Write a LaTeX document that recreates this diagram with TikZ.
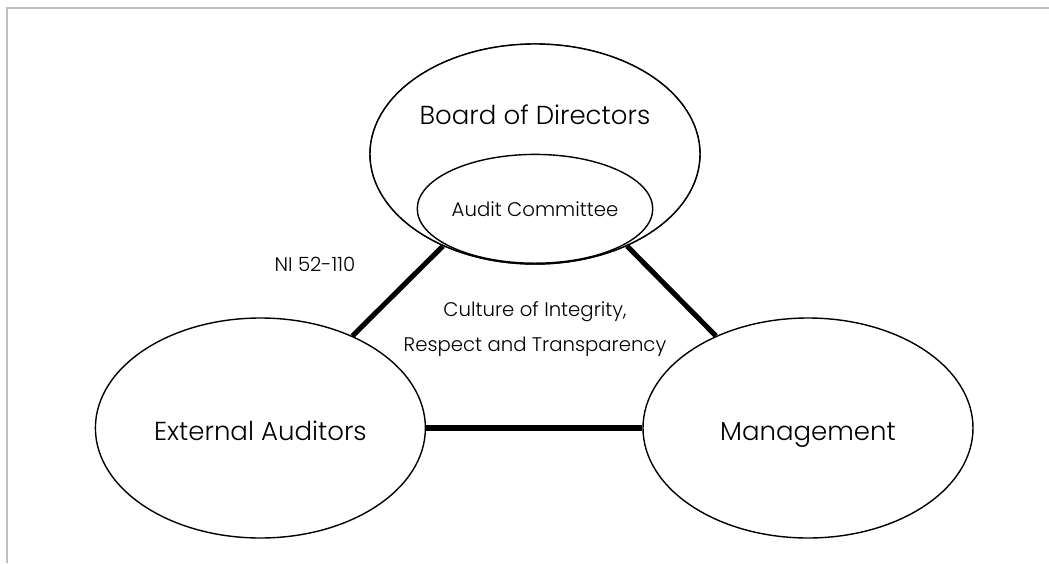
\documentclass[tikz,border=0pt]{standalone}
\usepackage{fontspec}
\setmainfont{Poppins Light}
\usetikzlibrary{positioning,shapes.geometric}

\begin{document}
\begin{tikzpicture}[
    party/.style={ellipse, draw, line width=1pt, fill=white, minimum width=8.25cm, minimum height=5.5cm, inner sep=0pt, text height=19pt, text depth=1.8pt, font=\fontsize{18.5}{22}\selectfont},
    committee/.style={ellipse, draw, line width=1pt, fill=white, minimum width=5.55cm, minimum height=2.72cm, inner sep=0pt, font=\fontsize{14}{18}\selectfont},
    link/.style={draw, line width=3.6pt},
    note/.style={font=\fontsize{14}{25}\selectfont, align=center}
]

% Frame of the page
\useasboundingbox (0,0) rectangle (26.225,-14.075);
\draw[gray!50, line width=1pt] (0.175,-14.075) -- (0.175,-0.2) -- (26.225,-0.2);

% Define node positions
\node[party] (board) at (13.375, -3.85) {};
\node[party] (ext) at (6.51, -10.7) {External Auditors};
\node[party] (mgmt) at (20.2, -10.7) {Management};

% Draw links between the parties
\draw[link] (ext.45) -- (board.225);
\draw[link] (mgmt.135) -- (board.315);
\draw[link] (ext.east) -- (mgmt.west);

% Redraw the board on top of the link ends
\node[party] (board) at (13.375, -3.85) {};
\node[font=\fontsize{18.5}{22}\selectfont] (boardname) at (13.375, -2.88) {Board of Directors};
\node[committee] (audit) at (13.375, -5.22) {Audit Committee};

% Add labels
\node[note] (law) at (7.875, -6.62) {NI 52-110};
\node[note] (culture) at (13.375, -8.22) {Culture of Integrity,\\ Respect and Transparency};

\end{tikzpicture}
\end{document}
